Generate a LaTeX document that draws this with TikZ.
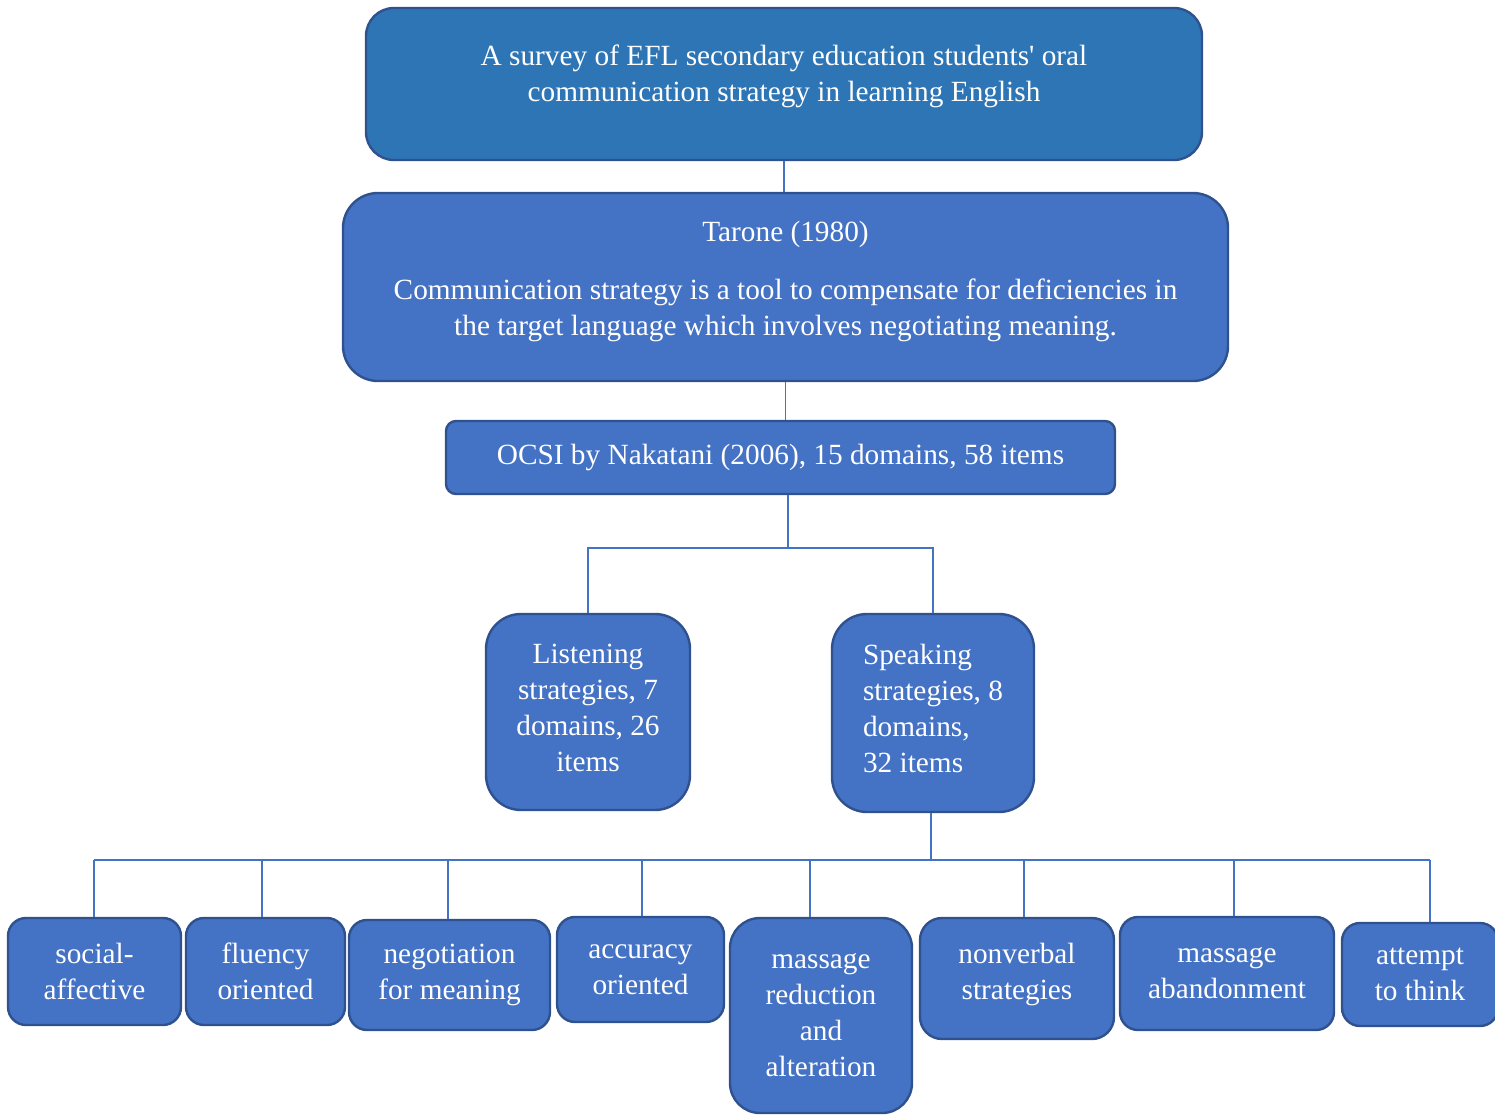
\documentclass[tikz,border=0pt]{standalone}
\usepackage{fontspec}
\setmainfont{Liberation Serif}
\usepackage{tikz}
\usetikzlibrary{positioning, calc}
\definecolor{csblue}{RGB}{46,117,182}
\definecolor{csmid}{RGB}{68,114,196}
\definecolor{csedge}{RGB}{47,82,143}
\definecolor{cslink}{RGB}{68,114,196}

\begin{document}
\begin{tikzpicture}[x=1pt, y=-1pt,
  box/.style={rectangle, draw=csedge, line width=2.4pt, fill=csmid, text=white, align=center, inner sep=0pt, font=\fontsize{29.3}{36}\selectfont},
  survey/.style={box, fill=csblue, rounded corners=28pt},
  leaf/.style={box, rounded corners=18pt},
  link/.style={draw=cslink, line width=1.4pt}
]
\useasboundingbox (0,0) rectangle (1495,1115);
% main chain
\node[survey, minimum width=836, minimum height=152, text depth=22pt] (survey) at (784,84) {A survey of EFL secondary education students\textquotesingle{} oral\\communication strategy in learning English};
\node[box, rounded corners=35pt, minimum width=885, minimum height=188, text depth=18pt] (tarone) at (785.5,287) {Tarone (1980)\\[22pt]Communication strategy is a tool to compensate for deficiencies in\\the target language which involves negotiating meaning.};
\node[box, rounded corners=10pt, minimum width=669, minimum height=73] (ocsi) at (780.5,457.5) {OCSI by Nakatani (2006), 15 domains, 58 items};
% two strategy groups
\node[box, rounded corners=35pt, minimum width=204, minimum height=196, text depth=8pt] (listen) at (588,712) {Listening\\strategies, 7\\domains, 26\\items};
\node[box, align=left, rounded corners=35pt, minimum width=202, minimum height=198, text depth=10pt] (speak) at (933,713) {Speaking\\strategies, 8\\domains,\\32 items};
% speaking domains
\node[leaf, minimum width=173, minimum height=107] (social) at (94.5,971.5) {social-\\affective};
\node[leaf, minimum width=159, minimum height=107] (fluency) at (265.5,971.5) {fluency\\oriented};
\node[leaf, minimum width=201, minimum height=110] (negot) at (449.5,975) {negotiation\\for meaning};
\node[leaf, minimum width=167, minimum height=105] (accur) at (640.5,969.5) {accuracy\\oriented};
\node[leaf, rounded corners=30pt, minimum width=182, minimum height=195] (reduct) at (821,1015.5) {massage\\reduction\\and\\alteration};
\node[leaf, rounded corners=22pt, minimum width=194, minimum height=121, text depth=15pt] (nonverb) at (1017,978.5) {nonverbal\\strategies};
\node[leaf, minimum width=214, minimum height=113] (abandon) at (1227,973.5) {massage\\abandonment};
\node[leaf, minimum width=156, minimum height=103] (attempt) at (1420,974.5) {attempt\\to think};
% connectors
\coordinate (lsfork) at (788,548);
\coordinate (domfork) at (931,860);
\coordinate (barL) at (94,860);
\coordinate (barR) at (1430,860);
\draw[link] (survey.south) -- (survey.south |- tarone.north);
\draw[link] (tarone.south) -- (tarone.south |- ocsi.north);
\draw[link] (ocsi.south -| lsfork) -- (lsfork);
\draw[link] (listen.north) -- (listen.north |- lsfork) -- (speak.north |- lsfork) -- (speak.north);
\draw[link] (speak.south -| domfork) -- (domfork);
\draw[link] (barL) -- (barR);
\foreach \leafname/\xpos in {social/94, fluency/262, negot/448, accur/642, reduct/810, nonverb/1024, abandon/1234, attempt/1430}
  \draw[link] (\xpos,860) -- (\xpos,860 |- \leafname.north);
\end{tikzpicture}
\end{document}
